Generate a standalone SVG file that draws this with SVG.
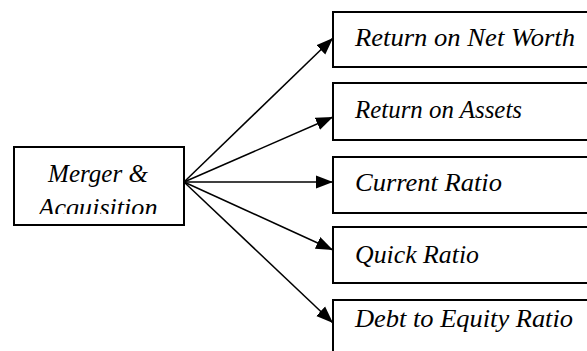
<svg xmlns="http://www.w3.org/2000/svg" width="587" height="351" viewBox="0 0 587 351">
  <style>
    .box { fill: #ffffff; stroke: #000000; stroke-width: 2; }
    .conn { stroke: #000000; stroke-width: 1.5; fill: none; marker-end: url(#head); }
  </style>
  <defs>
    <marker id="head" markerUnits="userSpaceOnUse" markerWidth="19" markerHeight="15" refX="17" refY="7" orient="auto">
      <polygon points="0,0.5 17,7 0,13.5" fill="#000000"/>
    </marker>
    <clipPath id="srcClip">
      <rect x="15" y="148" width="168" height="66"/>
    </clipPath>
  </defs>
  <rect width="587" height="351" fill="#ffffff"/>

  <g id="connectors">
    <line class="conn" x1="184" y1="182" x2="333" y2="38"/>
    <line class="conn" x1="184" y1="182" x2="333" y2="117"/>
    <line class="conn" x1="184" y1="182" x2="333" y2="182"/>
    <line class="conn" x1="184" y1="182" x2="333" y2="250"/>
    <line class="conn" x1="184" y1="182" x2="333" y2="323"/>
  </g>

  <g font-family="Liberation Serif" font-style="italic" font-size="26" fill="#000000">
    <g id="merger-acquisition">
      <rect class="box" x="14" y="147" width="170" height="78"/>
      <g clip-path="url(#srcClip)">
        <text x="98" y="182" text-anchor="middle" textLength="100" lengthAdjust="spacingAndGlyphs">Merger &amp;</text>
        <text x="98" y="216" text-anchor="middle" textLength="119" lengthAdjust="spacingAndGlyphs">Acquisition</text>
      </g>
    </g>

    <g id="return-on-net-worth">
      <rect class="box" x="333" y="12" width="260" height="55"/>
      <text x="355" y="46" textLength="220" lengthAdjust="spacingAndGlyphs">Return on Net Worth</text>
    </g>

    <g id="return-on-assets">
      <rect class="box" x="333" y="83" width="260" height="57"/>
      <text x="355" y="118" textLength="167" lengthAdjust="spacingAndGlyphs">Return on Assets</text>
    </g>

    <g id="current-ratio">
      <rect class="box" x="333" y="157" width="260" height="56"/>
      <text x="355" y="191" textLength="147" lengthAdjust="spacingAndGlyphs">Current Ratio</text>
    </g>

    <g id="quick-ratio">
      <rect class="box" x="333" y="227" width="260" height="56"/>
      <text x="355" y="263" textLength="124" lengthAdjust="spacingAndGlyphs">Quick Ratio</text>
    </g>

    <g id="debt-to-equity-ratio">
      <rect class="box" x="333" y="300" width="260" height="60"/>
      <text x="355" y="327" textLength="218" lengthAdjust="spacingAndGlyphs">Debt to Equity Ratio</text>
    </g>
  </g>
</svg>
